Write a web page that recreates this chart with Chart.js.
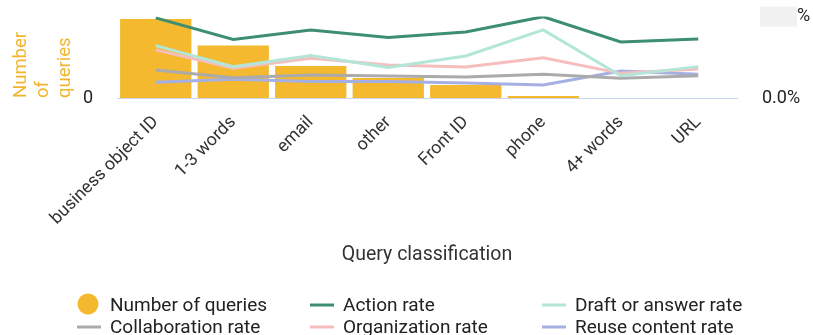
<!DOCTYPE html>
<html><head><meta charset="utf-8">
<script src="https://cdn.jsdelivr.net/npm/chart.js@4/dist/chart.umd.min.js"></script>
<style>html,body{margin:0;padding:0;background:#fff;}#wrap{width:813px;height:335px;position:relative;}</style>
</head><body><div id="wrap"><canvas id="c" width="813" height="335"></canvas></div>
<script>
const categories = ['business object ID', '1-3 words', 'email', 'other', 'Front ID', 'phone', '4+ words', 'URL'];
const numberOfQueries = [775, 515, 314, 196, 128, 20, 0, 0];
const actionRate = [39.3, 28.7, 33.4, 29.7, 32.4, 39.9, 27.5, 29.0];
const draftOrAnswerRate = [25.7, 15.4, 20.9, 15.0, 20.6, 33.4, 10.9, 15.4];
const collaborationRate = [13.7, 10.0, 11.3, 10.8, 10.3, 11.6, 9.7, 10.9];
const organizationRate = [23.6, 14.6, 19.5, 16.2, 15.2, 19.8, 12.1, 14.2];
const reuseContentRate = [7.7, 9.2, 8.1, 8.1, 7.4, 6.4, 13.3, 11.6];
const queryTicks = [0, 800];
const rateTicks = [0, 40];

Chart.defaults.font.family = 'Roboto';

const lineDs = (label, data, color) => ({
  type: 'line', label, data, yAxisID: 'y1', borderColor: color, backgroundColor: color,
  borderWidth: 3, pointRadius: 0, tension: 0, fill: false, order: 1
});

const legendPos = [
  {x: 77, y: 305}, {x: 310, y: 305}, {x: 542, y: 305},
  {x: 77, y: 327}, {x: 310, y: 327}, {x: 542, y: 327}
];

const customLegend = {
  id: 'customLegend',
  afterDraw(chart) {
    const ctx = chart.ctx;
    ctx.save();
    ctx.font = '19px Roboto';
    ctx.textBaseline = 'middle';
    ctx.textAlign = 'left';
    chart.data.datasets.forEach((ds, i) => {
      const p = legendPos[i];
      if (ds.type === 'bar') {
        ctx.fillStyle = ds.backgroundColor;
        ctx.beginPath();
        ctx.arc(p.x + 11, p.y - 1, 10.5, 0, Math.PI * 2);
        ctx.fill();
      } else {
        ctx.strokeStyle = ds.borderColor;
        ctx.lineWidth = 3;
        ctx.beginPath();
        ctx.moveTo(p.x, p.y);
        ctx.lineTo(p.x + 24, p.y);
        ctx.stroke();
      }
      ctx.fillStyle = '#222';
      ctx.fillText(ds.label, p.x + 33, p.y + 1);
    });
    ctx.restore();
  }
};

const redact = {
  id: 'redact',
  afterDraw(chart) {
    const s = chart.scales.y1;
    const ctx = chart.ctx;
    const yTop = s.getPixelForValue(rateTicks[1]);
    ctx.save();
    ctx.fillStyle = '#f1f1f1';
    ctx.fillRect(s.left + 23, yTop - 10, 37, 20);
    ctx.restore();
  }
};

function noPad(s) { s.paddingTop = 0; s.paddingBottom = 0; s.paddingLeft = 0; s.paddingRight = 0; }

new Chart(document.getElementById('c'), {
  data: {
    labels: categories,
    datasets: [
      {type: 'bar', label: 'Number of queries', data: numberOfQueries, yAxisID: 'y',
       backgroundColor: '#F4B92E', barPercentage: 0.92, categoryPercentage: 1, order: 2},
      lineDs('Action rate', actionRate, '#3E8E72'),
      lineDs('Draft or answer rate', draftOrAnswerRate, '#B3E6D8'),
      lineDs('Collaboration rate', collaborationRate, '#ABABAB'),
      lineDs('Organization rate', organizationRate, '#F6BDBD'),
      lineDs('Reuse content rate', reuseContentRate, '#A5AFE2')
    ]
  },
  options: {
    responsive: false,
    animation: false,
    devicePixelRatio: 1,
    layout: {padding: {top: 16.5, bottom: 67, left: 0, right: 0}},
    plugins: {legend: {display: false}, tooltip: {enabled: false}},
    scales: {
      x: {
        offset: true,
        grid: {display: false, drawTicks: false},
        border: {display: true, color: '#C9D6EF', width: 1},
        ticks: {minRotation: 45, maxRotation: 45, autoSkip: false, color: '#333', font: {size: 17.7}, padding: 14},
        title: {display: true, text: 'Query classification', color: '#333', font: {size: 19.5}, padding: {top: 0, bottom: 1}},
        afterFit(s) { s.height = 170; noPad(s); }
      },
      y: {
        position: 'left', min: queryTicks[0], max: queryTicks[1],
        afterBuildTicks(s) { s.ticks = queryTicks.map(v => ({value: v})); },
        ticks: {callback: v => (v === 0 ? '0' : ''), padding: 24, color: '#222', font: {size: 18}},
        grid: {display: false, drawTicks: false},
        border: {display: false},
        title: {display: true, text: ['Number', 'of', 'queries'], align: 'start', color: '#F2B52F',
                font: {size: 18.5, lineHeight: 1.2}, padding: {top: 10, bottom: 0}},
        afterFit(s) { s.width = 117; noPad(s); }
      },
      y1: {
        position: 'right', min: rateTicks[0], max: rateTicks[1],
        afterBuildTicks(s) { s.ticks = rateTicks.map(v => ({value: v})); },
        ticks: {callback: v => v.toFixed(1) + '%', padding: 25, color: '#222', font: {size: 18}},
        grid: {display: false, drawTicks: false},
        border: {display: false},
        afterFit(s) { s.width = 76; noPad(s); }
      }
    }
  },
  plugins: [customLegend, redact]
});
</script></body></html>
